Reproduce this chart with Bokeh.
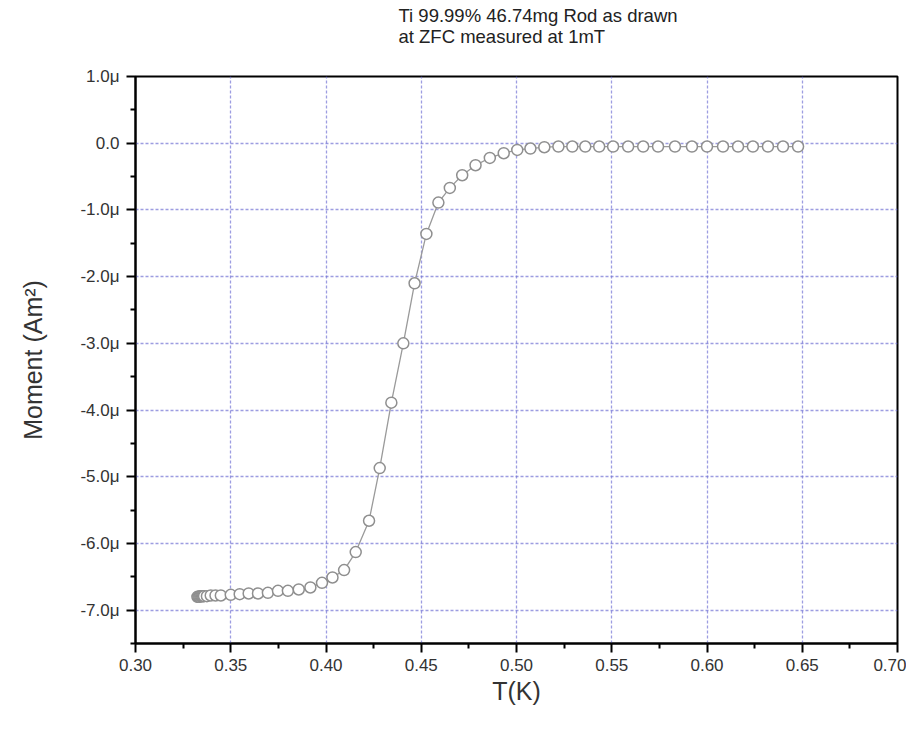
from bokeh.plotting import figure
from bokeh.models import (Range1d, FixedTicker, CustomJSTickFormatter, Title)
from bokeh.embed import file_html
from bokeh.resources import INLINE

# Data: temperature (K) and moment (in units of 1e-6 A m^2)
T_K = [0.3325, 0.3330, 0.3335, 0.3340, 0.3345, 0.3350, 0.3355, 0.3360,
       0.3375, 0.3395, 0.3420,
       0.3448, 0.3500, 0.3547, 0.3594, 0.3643, 0.3695, 0.3748, 0.3800,
       0.3857, 0.3918, 0.3979, 0.4034, 0.4095, 0.4156, 0.4226, 0.4282,
       0.4343, 0.4406, 0.4465, 0.4527, 0.4590, 0.4650, 0.4715, 0.4785,
       0.4860, 0.4933, 0.5004, 0.5073, 0.5146, 0.5220, 0.5293, 0.5361,
       0.5434, 0.5507, 0.5586, 0.5665, 0.5743, 0.5832, 0.5921, 0.6000,
       0.6084, 0.6163, 0.6241, 0.6320, 0.6399, 0.6478]
moment_u = [-6.80, -6.80, -6.80, -6.79, -6.79, -6.79, -6.79, -6.79,
            -6.79, -6.78, -6.78,
            -6.78, -6.77, -6.76, -6.75, -6.75, -6.74, -6.71, -6.71,
            -6.69, -6.66, -6.59, -6.51, -6.40, -6.13, -5.66, -4.87,
            -3.89, -3.00, -2.10, -1.36, -0.89, -0.67, -0.48, -0.33,
            -0.22, -0.15, -0.10, -0.08, -0.06, -0.05, -0.05, -0.05,
            -0.05, -0.05, -0.05, -0.05, -0.05, -0.05, -0.05, -0.05,
            -0.05, -0.05, -0.05, -0.05, -0.05, -0.05]

x_ticks = [0.30, 0.35, 0.40, 0.45, 0.50, 0.55, 0.60, 0.65, 0.70]
x_minor = [0.325, 0.375, 0.425, 0.475, 0.525, 0.575, 0.625, 0.675]
y_ticks = [-7, -6, -5, -4, -3, -2, -1, 0, 1]
y_minor = [-7.5, -6.5, -5.5, -4.5, -3.5, -2.5, -1.5, -0.5, 0.5]

title_line1 = "Ti 99.99% 46.74mg Rod as drawn"
title_line2 = "at ZFC measured at 1mT"
x_label = "T(K)"
y_label = "Moment (Am\u00b2)"

FONT = "Liberation Sans"

p = figure(width=906, height=713, output_backend="svg", toolbar_location=None,
           x_range=Range1d(0.30, 0.70), y_range=Range1d(-7.5, 1.0),
           min_border_left=135, min_border_right=9, min_border_top=76,
           min_border_bottom=70)
p.title.visible = False

spacer = Title(text=" ", text_font_size="1px", standoff=29, align="left")
t2 = Title(text=title_line2, align="left", offset=263, standoff=-4,
           text_font=FONT, text_font_size="18.5px", text_font_style="normal",
           text_color="#222222")
t1 = Title(text=title_line1, align="left", offset=263, standoff=0,
           text_font=FONT, text_font_size="18.5px", text_font_style="normal",
           text_color="#222222")
p.add_layout(spacer, "above")
p.add_layout(t2, "above")
p.add_layout(t1, "above")

p.outline_line_color = "black"
p.outline_line_width = 2
p.outline_line_alpha = 1
p.background_fill_color = "white"
p.border_fill_color = "white"

# axes
p.xaxis.ticker = FixedTicker(ticks=x_ticks, minor_ticks=x_minor)
p.yaxis.ticker = FixedTicker(ticks=y_ticks, minor_ticks=y_minor)
p.xaxis.formatter = CustomJSTickFormatter(code="return tick.toFixed(2);")
p.yaxis.formatter = CustomJSTickFormatter(
    code="if (Math.abs(tick) < 1e-9) { return '0.0'; } return tick.toFixed(1) + '\u03bc';")

for ax in (p.xaxis, p.yaxis):
    ax.axis_line_width = 2
    ax.axis_line_color = "black"
    ax.major_tick_line_width = 2
    ax.minor_tick_line_width = 2
    ax.major_tick_line_color = "black"
    ax.minor_tick_line_color = "black"
    ax.major_tick_out = 9
    ax.major_tick_in = 0
    ax.minor_tick_out = 5
    ax.minor_tick_in = 0
    ax.major_label_text_font = FONT
    ax.major_label_text_font_size = "17px"
    ax.major_label_text_color = "#333333"
    ax.axis_label_text_font = FONT
    ax.axis_label_text_font_size = "25px"
    ax.axis_label_text_font_style = "normal"
    ax.axis_label_text_color = "#333333"

p.xaxis.axis_label = x_label
p.yaxis.axis_label = y_label
p.xaxis.major_label_standoff = 6
p.xaxis.axis_label_standoff = 3
p.yaxis.major_label_standoff = 7
p.yaxis.axis_label_standoff = 30

# grid
for g in (p.xgrid, p.ygrid):
    g.grid_line_color = "#7474d4"
    g.grid_line_alpha = 0.7
    g.grid_line_dash = "3 2"
    g.grid_line_width = 1.3

p.line(T_K, moment_u, line_color="#9a9a9a", line_width=1.3)
p.scatter(T_K, moment_u, marker="circle", size=11, fill_color="white",
          line_color="#8f8f8f", line_width=1.5)

open("out.html", "w").write(file_html(p, INLINE))
